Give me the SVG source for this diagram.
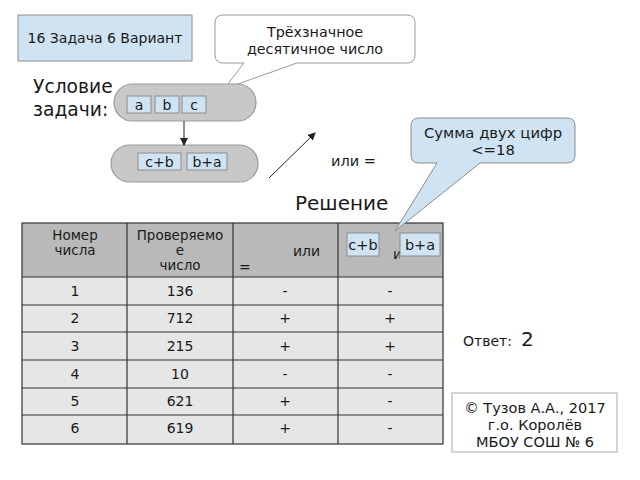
<svg xmlns="http://www.w3.org/2000/svg" width="640" height="480" viewBox="0 0 640 480">
<style>
text{font-family:"DejaVu Sans","Noto Sans",sans-serif;fill:#1a1a1a}
.blue{fill:#cfe3f3;stroke:#8c8c8c;stroke-width:1}
.pill{fill:#c8c8c8;stroke:#9a9a9a;stroke-width:1.2}
.cell{font-size:14px;text-anchor:middle}
.hcell{font-size:13.5px;text-anchor:middle}
.hd{fill:#b9b9b9}
.row{fill:#e6e6e6}
.grid{stroke:#333;stroke-width:1.2;fill:none}
.arr{stroke:#222;stroke-width:1;fill:none;marker-end:url(#ah)}
</style>
<defs>
<marker id="ah" markerWidth="8" markerHeight="8" refX="7" refY="4" orient="auto" markerUnits="userSpaceOnUse">
<path d="M0,0 L8,4 L0,8 z" fill="#222"/>
</marker>
<clipPath id="clipOr"><rect x="380" y="230" width="20" height="30"/></clipPath>
</defs>
<rect width="640" height="480" fill="#fff"/>

<g id="title">
<rect class="blue" x="18" y="15" width="174" height="46"/>
<text x="105" y="43" font-size="14" text-anchor="middle">16 Задача 6 Вариант</text>
</g>

<g id="callout1">
<path d="M223,15 H407 Q415,15 415,23 V55 Q415,63 407,63 H297 L224,89 L244,63 H223 Q215,63 215,55 V23 Q215,15 223,15 z" fill="#fff" stroke="#9a9a9a" stroke-width="1"/>
<text x="315" y="37" font-size="14.3" text-anchor="middle">Трёхзначное</text>
<text x="315" y="54" font-size="14.3" text-anchor="middle">десятичное число</text>
</g>

<g id="condition-label">
<text x="33" y="93" font-size="18.7">Условие</text>
<text x="33" y="116" font-size="18.7">задачи:</text>
</g>

<g id="pill1">
<rect class="pill" x="114" y="84" width="142" height="37" rx="18.5"/>
<rect class="blue" x="127" y="96" width="24" height="17"/>
<text x="139" y="110" font-size="14" text-anchor="middle">a</text>
<rect class="blue" x="155" y="96" width="24" height="17"/>
<text x="167" y="110" font-size="14" text-anchor="middle">b</text>
<rect class="blue" x="182" y="96" width="24" height="17"/>
<text x="194" y="110" font-size="14" text-anchor="middle">c</text>
</g>

<g id="pill2">
<rect class="pill" x="111" y="145" width="147" height="37" rx="18.5"/>
<rect class="blue" x="138" y="153" width="43" height="17"/>
<text x="159.5" y="167" font-size="14" text-anchor="middle">c+b</text>
<rect class="blue" x="187" y="153" width="40" height="17"/>
<text x="207" y="167" font-size="14" text-anchor="middle">b+a</text>
</g>

<g id="connectors">
<line class="arr" x1="184" y1="121" x2="184" y2="145"/>
<line class="arr" x1="269" y1="178" x2="315" y2="133"/>
<line class="arr" x1="251" y1="260" x2="288" y2="228"/>
</g>

<g id="or-eq">
<text x="331" y="166" font-size="14.5">или =</text>
</g>

<g id="solution-label">
<text x="295" y="210" font-size="20">Решение</text>
</g>

<g id="table">
<rect class="hd" x="22" y="223" width="421" height="54"/>
<rect class="row" x="22" y="277" width="421" height="167"/>
<g class="grid">
<rect x="22" y="223" width="421" height="221"/>
<line x1="127" y1="223" x2="127" y2="444"/>
<line x1="233" y1="223" x2="233" y2="444"/>
<line x1="338" y1="223" x2="338" y2="444"/>
<line x1="22" y1="277" x2="443" y2="277"/>
<line x1="22" y1="305" x2="443" y2="305"/>
<line x1="22" y1="332" x2="443" y2="332"/>
<line x1="22" y1="360" x2="443" y2="360"/>
<line x1="22" y1="388" x2="443" y2="388"/>
<line x1="22" y1="415" x2="443" y2="415"/>
</g>
<text class="hcell" x="75" y="240">Номер</text>
<text class="hcell" x="75" y="255">числа</text>
<text class="hcell" x="180" y="240">Проверяемо</text>
<text class="hcell" x="180" y="255">е</text>
<text class="hcell" x="180" y="270">число</text>
<text x="239" y="272" font-size="14">=</text>
<text x="293" y="256" font-size="14">или</text>
<text x="393" y="259" font-size="14" clip-path="url(#clipOr)">или</text>
<rect class="blue" x="347" y="233" width="32" height="23"/>
<text x="363" y="250" font-size="14.5" text-anchor="middle">c+b</text>
<rect class="blue" x="400" y="233" width="40" height="23"/>
<text x="420" y="250" font-size="14.5" text-anchor="middle">b+a</text>
<g>
<text class="cell" x="75" y="296">1</text>
<text class="cell" x="180" y="296">136</text>
<text class="cell" x="285" y="296">-</text>
<text class="cell" x="390" y="296">-</text>
<text class="cell" x="75" y="323">2</text>
<text class="cell" x="180" y="323">712</text>
<text class="cell" x="285" y="323">+</text>
<text class="cell" x="390" y="323">+</text>
<text class="cell" x="75" y="351">3</text>
<text class="cell" x="180" y="351">215</text>
<text class="cell" x="285" y="351">+</text>
<text class="cell" x="390" y="351">+</text>
<text class="cell" x="75" y="379">4</text>
<text class="cell" x="180" y="379">10</text>
<text class="cell" x="285" y="379">-</text>
<text class="cell" x="390" y="379">-</text>
<text class="cell" x="75" y="406">5</text>
<text class="cell" x="180" y="406">621</text>
<text class="cell" x="285" y="406">+</text>
<text class="cell" x="390" y="406">-</text>
<text class="cell" x="75" y="433">6</text>
<text class="cell" x="180" y="433">619</text>
<text class="cell" x="285" y="433">+</text>
<text class="cell" x="390" y="433">-</text>
</g>
</g>

<g id="callout2">
<path d="M419,118 H567 Q575,118 575,126 V155 Q575,163 567,163 H480 L395,231 L437,163 H419 Q411,163 411,155 V126 Q411,118 419,118 z" fill="#cfe3f3" stroke="#8c8c8c" stroke-width="1"/>
<text x="493" y="138" font-size="14.8" text-anchor="middle">Сумма двух цифр</text>
<text x="493" y="155" font-size="14.8" text-anchor="middle">&lt;=18</text>
</g>

<g id="answer">
<text x="463" y="346" font-size="14">Ответ:</text>
<text x="521" y="346" font-size="20">2</text>
</g>

<g id="credits">
<rect x="452" y="393" width="165" height="59" fill="#fff" stroke="#aaa" stroke-width="1"/>
<text x="535" y="413" font-size="14.5" text-anchor="middle">© Тузов А.А., 2017</text>
<text x="535" y="430" font-size="14.5" text-anchor="middle">г.о. Королёв</text>
<text x="535" y="447" font-size="14.5" text-anchor="middle">МБОУ СОШ № 6</text>
</g>
</svg>
